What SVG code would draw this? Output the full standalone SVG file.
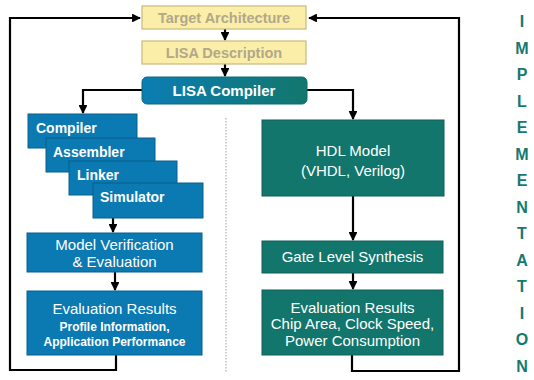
<svg xmlns="http://www.w3.org/2000/svg" width="534" height="380" viewBox="0 0 534 380">
<defs>
<linearGradient id="gc" x1="0" y1="0" x2="1" y2="0">
<stop offset="0" stop-color="#0b7db3"/>
<stop offset="1" stop-color="#12776c"/>
</linearGradient>
<marker id="ah" viewBox="0 0 10 10" refX="9" refY="5" markerWidth="4" markerHeight="4" orient="auto" markerUnits="strokeWidth">
<path d="M0,0 L10,5 L0,10 z" fill="#000"/>
</marker>
</defs>
<style>
.y{fill:#fbeea8;stroke:#c9b97c;stroke-width:1.2}
.b{fill:#0b79b2;stroke:#0a5f8c;stroke-width:1}
.t{fill:#12766c;stroke:#0e5f57;stroke-width:1}
.c{fill:none;stroke:#000;stroke-width:2.2}
.yt{font-family:"Liberation Sans",Arial,sans-serif;font-size:14.5px;font-weight:bold;fill:#b2a88a;text-anchor:middle}
.w{font-family:"Liberation Sans",Arial,sans-serif;font-size:14px;font-weight:bold;fill:#fff}
.wm{font-family:"Liberation Sans",Arial,sans-serif;font-size:15px;fill:#fff;text-anchor:middle}
.ws{font-family:"Liberation Sans",Arial,sans-serif;font-size:12px;font-weight:bold;fill:#fff;text-anchor:middle}
.v{font-family:"Liberation Sans",Arial,sans-serif;font-size:16px;font-weight:bold;fill:#157a6e;text-anchor:middle}
</style>
<g id="connectors">
<path class="c" d="M116,355 V370 H10 V18 H140" marker-end="url(#ah)"/>
<path class="c" d="M352,355 V371 H459 V18 H309" marker-end="url(#ah)"/>
<path class="c" d="M225,29 V40" marker-end="url(#ah)"/>
<path class="c" d="M225,64 V76" marker-end="url(#ah)"/>
<path class="c" d="M142,90 H83 V113" marker-end="url(#ah)"/>
<path class="c" d="M307,90 H353 V119" marker-end="url(#ah)"/>
<path class="c" d="M113,218 V232" marker-end="url(#ah)"/>
<path class="c" d="M115,272 V290" marker-end="url(#ah)"/>
<path class="c" d="M353,196 V240" marker-end="url(#ah)"/>
<path class="c" d="M353,273 V289" marker-end="url(#ah)"/>
<line x1="226" y1="118" x2="226" y2="372" stroke="#b0b0b0" stroke-width="1.2" stroke-dasharray="1.5,1.5"/>
</g>
<g id="target-architecture">
<rect class="y" x="142" y="6" width="164" height="23"/>
<text class="yt" x="224" y="23">Target Architecture</text>
</g>
<g id="lisa-description">
<rect class="y" x="142" y="41" width="164" height="23"/>
<text class="yt" x="224" y="58">LISA Description</text>
</g>
<g id="lisa-compiler">
<rect x="142" y="77" width="165" height="27" rx="5" fill="url(#gc)" stroke="#0e6a78" stroke-width="1"/>
<text class="wm" x="224" y="96" font-weight="bold">LISA Compiler</text>
</g>
<g id="compiler">
<rect class="b" x="28" y="114" width="109" height="34"/>
<text class="w" x="36" y="133">Compiler</text>
</g>
<g id="assembler">
<rect class="b" x="46" y="138" width="109" height="34"/>
<text class="w" x="53" y="157">Assembler</text>
</g>
<g id="linker">
<rect class="b" x="69" y="161" width="108" height="34"/>
<text class="w" x="77" y="180">Linker</text>
</g>
<g id="simulator">
<rect class="b" x="93" y="183" width="110" height="35"/>
<text class="w" x="100" y="202">Simulator</text>
</g>
<g id="model-verification">
<rect class="b" x="27" y="233" width="175" height="39"/>
<text class="wm" x="114.5" y="250">Model Verification</text>
<text class="wm" x="114.5" y="267">&amp; Evaluation</text>
</g>
<g id="evaluation-results-left">
<rect class="b" x="27" y="291" width="175" height="64"/>
<text class="wm" x="114.5" y="314" font-size="16">Evaluation Results</text>
<text class="ws" x="114.5" y="331">Profile Information,</text>
<text class="ws" x="114.5" y="346">Application Performance</text>
</g>
<g id="hdl-model">
<rect class="t" x="262" y="120" width="182" height="76"/>
<text class="wm" x="353" y="156">HDL Model</text>
<text class="wm" x="353" y="176">(VHDL, Verilog)</text>
</g>
<g id="gate-level-synthesis">
<rect class="t" x="262" y="241" width="181" height="32"/>
<text class="wm" x="352.5" y="262">Gate Level Synthesis</text>
</g>
<g id="evaluation-results-right">
<rect class="t" x="262" y="290" width="181" height="65"/>
<text class="wm" x="352.5" y="313" font-size="16">Evaluation Results</text>
<text class="wm" x="352.5" y="329" font-size="12.5">Chip Area, Clock Speed,</text>
<text class="wm" x="352.5" y="346" font-size="12.5">Power Consumption</text>
</g>
<g id="implementation">
<text class="v" x="522" y="27">I</text>
<text class="v" x="522" y="53.5">M</text>
<text class="v" x="522" y="80">P</text>
<text class="v" x="522" y="106.5">L</text>
<text class="v" x="522" y="133">E</text>
<text class="v" x="522" y="159.5">M</text>
<text class="v" x="522" y="186">E</text>
<text class="v" x="522" y="212.5">N</text>
<text class="v" x="522" y="239">T</text>
<text class="v" x="522" y="265.5">A</text>
<text class="v" x="522" y="292">T</text>
<text class="v" x="522" y="318.5">I</text>
<text class="v" x="522" y="345">O</text>
<text class="v" x="522" y="371.5">N</text>
</g>
</svg>
